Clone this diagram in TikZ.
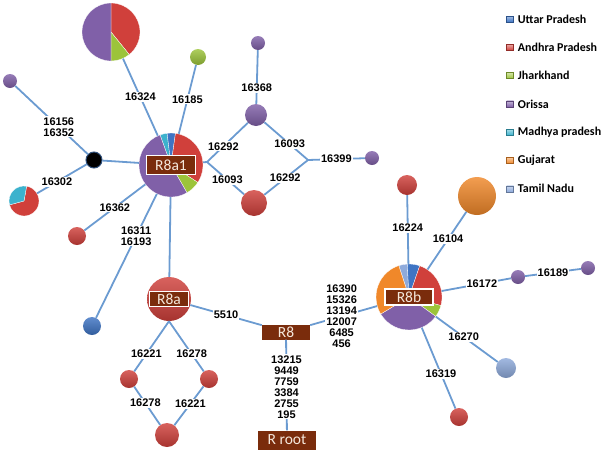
\documentclass[tikz,border=0pt]{standalone}
\usepackage{fontspec}
\setmainfont{Liberation Sans}
\newfontfamily\calfont{Carlito}
\usetikzlibrary{positioning,calc}
\definecolor{hapUP}{HTML}{3E74C4}
\definecolor{hapAP}{HTML}{D0403B}
\definecolor{hapJH}{HTML}{9CC43A}
\definecolor{hapOR}{HTML}{8060A8}
\definecolor{hapMP}{HTML}{3CB2CD}
\definecolor{hapGJ}{HTML}{F0882A}
\definecolor{hapTN}{HTML}{8EAADB}
\definecolor{hapEdge}{HTML}{6B9BD1}
\definecolor{hapBrown}{HTML}{7A2C0C}
\definecolor{hapCream}{HTML}{F5E8DC}
\definecolor{hapNavy}{HTML}{2F4F7A}
\newcommand{\pieslices}[3]{%
  \foreach \sa/\sb/\sc in {#3}
    \fill[\sc, draw=white, line width=0.3pt] (#1) -- ++(\sa:#2) arc[start angle=\sa, end angle=\sb, radius=#2] -- cycle;}
\tikzset{
    hapLine/.style={draw=hapEdge, line width=1.8pt},
    hapLabel/.style={
        font=\fontsize{11}{11}\selectfont\bfseries,
        fill=white,
        inner sep=1pt,
        align=center
    },
    % Nodes
    pieAnchor/.style={circle, inner sep=0pt, minimum size=#1},
    ball/.style 2 args={circle, inner sep=0pt, minimum size=#2,
        top color=#1!82!white, bottom color=#1!80!black},
    blackBall/.style={circle, inner sep=0pt, minimum size=#1, fill=black,
        draw=hapNavy, line width=1pt},
    hapBox/.style={
        rectangle,
        fill=hapBrown,
        text=hapCream,
        font=\calfont\fontsize{15.5}{15.5}\selectfont,
        inner sep=0pt
    },
    framedBox/.style={hapBox, draw=white, line width=1.3pt},
    % Legend
    legSq/.style={rectangle, inner sep=0pt, minimum width=7, minimum height=6,
        draw=#1!70!black, line width=0.4pt, top color=#1!45!white, bottom color=#1},
    legText/.style={font=\calfont\bfseries\fontsize{12}{12}\selectfont, inner sep=0pt}
}
\begin{document}
\begin{tikzpicture}[x=1pt, y=-1pt]
\useasboundingbox (0,0) rectangle (613,453);

% R8a1 and its neighbours
\node[pieAnchor=64] (a1) at (171,165) {};
\pieslices{a1.center}{32}{-110/-97/hapMP, -97/-82/hapUP, -82/33/hapAP, 33/60/hapJH, 60/250/hapOR}
\node[framedBox, minimum width=49, minimum height=19] (a1box) at (a1) {R8a1};

\node[pieAnchor=58] (topPie) at (111,32) {};
\pieslices{topPie.center}{29}{-90/51/hapAP, 51/90/hapJH, 90/270/hapOR}

\node[pieAnchor=30] (leftPie) at (24,201) {};
\pieslices{leftPie.center}{15}{-80/165/hapAP, 165/280/hapMP}

\node[ball={hapJH}{16}] (grn) at (198,57) {};
\node[ball={hapOR}{14}] (pTL) at (10,81) {};
\node[blackBall=16] (blk) at (94,160) {};
\node[ball={hapOR}{22}] (pMid) at (256,115) {};
\node[ball={hapOR}{14}] (pTop) at (258,43) {};
\node[ball={hapAP}{26}] (rMid) at (254,203) {};
\node[ball={hapOR}{14}] (pR) at (372,158) {};
\node[ball={hapAP}{18}] (rSm) at (77,236) {};
\node[ball={hapUP}{18}] (bl) at (92,326) {};
\coordinate (vL) at (207,162);
\coordinate (vR) at (308,160);

% R8a and the lower loop
\node[ball={hapAP}{44}] (a) at (169,299) {};
\node[framedBox, minimum width=39, minimum height=15] (abox) at (a) {R8a};
\node[ball={hapAP}{18}] (rL) at (129,379) {};
\node[ball={hapAP}{18}] (rR) at (209,379) {};
\node[ball={hapAP}{24}] (rB) at (167,435) {};

% R8 and root
\node[hapBox, minimum width=48, minimum height=15] (R8) at (286,332) {R8};
\node[hapBox, minimum width=58, minimum height=19] (root) at (287,440) {R root};

% R8b and its neighbours
\node[pieAnchor=66] (b) at (409,297) {};
\pieslices{b.center}{33}{-108/-93/hapTN, -93/-71/hapUP, -71/15/hapAP, 15/36/hapJH, 36/149/hapOR, 149/252/hapGJ}
\node[framedBox, minimum width=48, minimum height=16] (bbox) at (b) {R8b};
\node[ball={hapAP}{20}] (rT) at (407,185) {};
\node[ball={hapGJ}{38}] (og) at (477,196) {};
\node[ball={hapOR}{14}] (p1) at (518,277) {};
\node[ball={hapOR}{14}] (p2) at (588,268) {};
\node[ball={hapTN}{20}] (lb) at (506,368) {};
\node[ball={hapAP}{18}] (rBot) at (459,417) {};

% Edges
\draw[hapLine] (a1) -- (topPie) node[hapLabel, pos=0.5] {16324};
\draw[hapLine] (a1) -- (grn) node[hapLabel, pos=0.5] {16185};
\draw[hapLine] (pTL) -- (blk) node[hapLabel, pos=0.6] {16156\\16352};
\draw[hapLine] (blk) -- (leftPie) node[hapLabel, pos=0.6] {16302};
\draw[hapLine] (blk) -- (a1);
\draw[hapLine] (a1) -- (rSm) node[hapLabel, pos=0.5] {16362};
\draw[hapLine] (a1) -- (bl) node[hapLabel, pos=0.34] {16311\\16193};
\draw[hapLine] (a1) -- (vL);
\draw[hapLine] (vL) -- (pMid) node[hapLabel, pos=0.4] {16292};
\draw[hapLine] (vL) -- (rMid) node[hapLabel, pos=0.55] {16093};
\draw[hapLine] (pMid) -- (vR) node[hapLabel, pos=0.58] {16093};
\draw[hapLine] (rMid) -- (vR) node[hapLabel, pos=0.48] {16292};
\draw[hapLine] (vR) -- (pR) node[hapLabel, pos=0.5] {16399};
\draw[hapLine] (pMid) -- (pTop) node[hapLabel, pos=0.3] {16368};
\draw[hapLine] (a1) -- (a);
\draw[hapLine] (a) -- (R8) node[hapLabel, pos=0.5] {5510};
\draw[hapLine] (a.south) -- (rL) node[hapLabel, pos=0.65] {16221};
\draw[hapLine] (a.south) -- (rR) node[hapLabel, pos=0.65] {16278};
\draw[hapLine] (rL) -- (rB) node[hapLabel, pos=0.43] {16278};
\draw[hapLine] (rR) -- (rB) node[hapLabel, pos=0.45] {16221};
\draw[hapLine] (R8) -- (root) node[hapLabel, pos=0.52] {13215\\9449\\7759\\3384\\2755\\195};
\draw[hapLine] (R8) -- (b) node[hapLabel, pos=0.47] {16390\\15326\\13194\\12007\\6485\\456};
\draw[hapLine] (b) -- (rT) node[hapLabel, pos=0.52] {16224};
\draw[hapLine] (b) -- (og) node[hapLabel, pos=0.53] {16104};
\draw[hapLine] (b) -- (p1) node[hapLabel, pos=0.58] {16172};
\draw[hapLine] (p1) -- (p2) node[hapLabel, pos=0.5] {16189};
\draw[hapLine] (b) -- (lb) node[hapLabel, pos=0.45] {16270};
\draw[hapLine] (b) -- (rBot) node[hapLabel, pos=0.57] {16319};

% Legend
\foreach \nm/\cl [count=\i] in {Uttar Pradesh/hapUP, Andhra Pradesh/hapAP, Jharkhand/hapJH, Orissa/hapOR, Madhya pradesh/hapMP, Gujarat/hapGJ, Tamil Nadu/hapTN} {
    \node[legSq=\cl] (sq\i) at (510,{19+28.3*(\i-1)}) {};
    \node[legText, anchor=west, right=4pt of sq\i] {\nm};
}
\end{tikzpicture}
\end{document}
